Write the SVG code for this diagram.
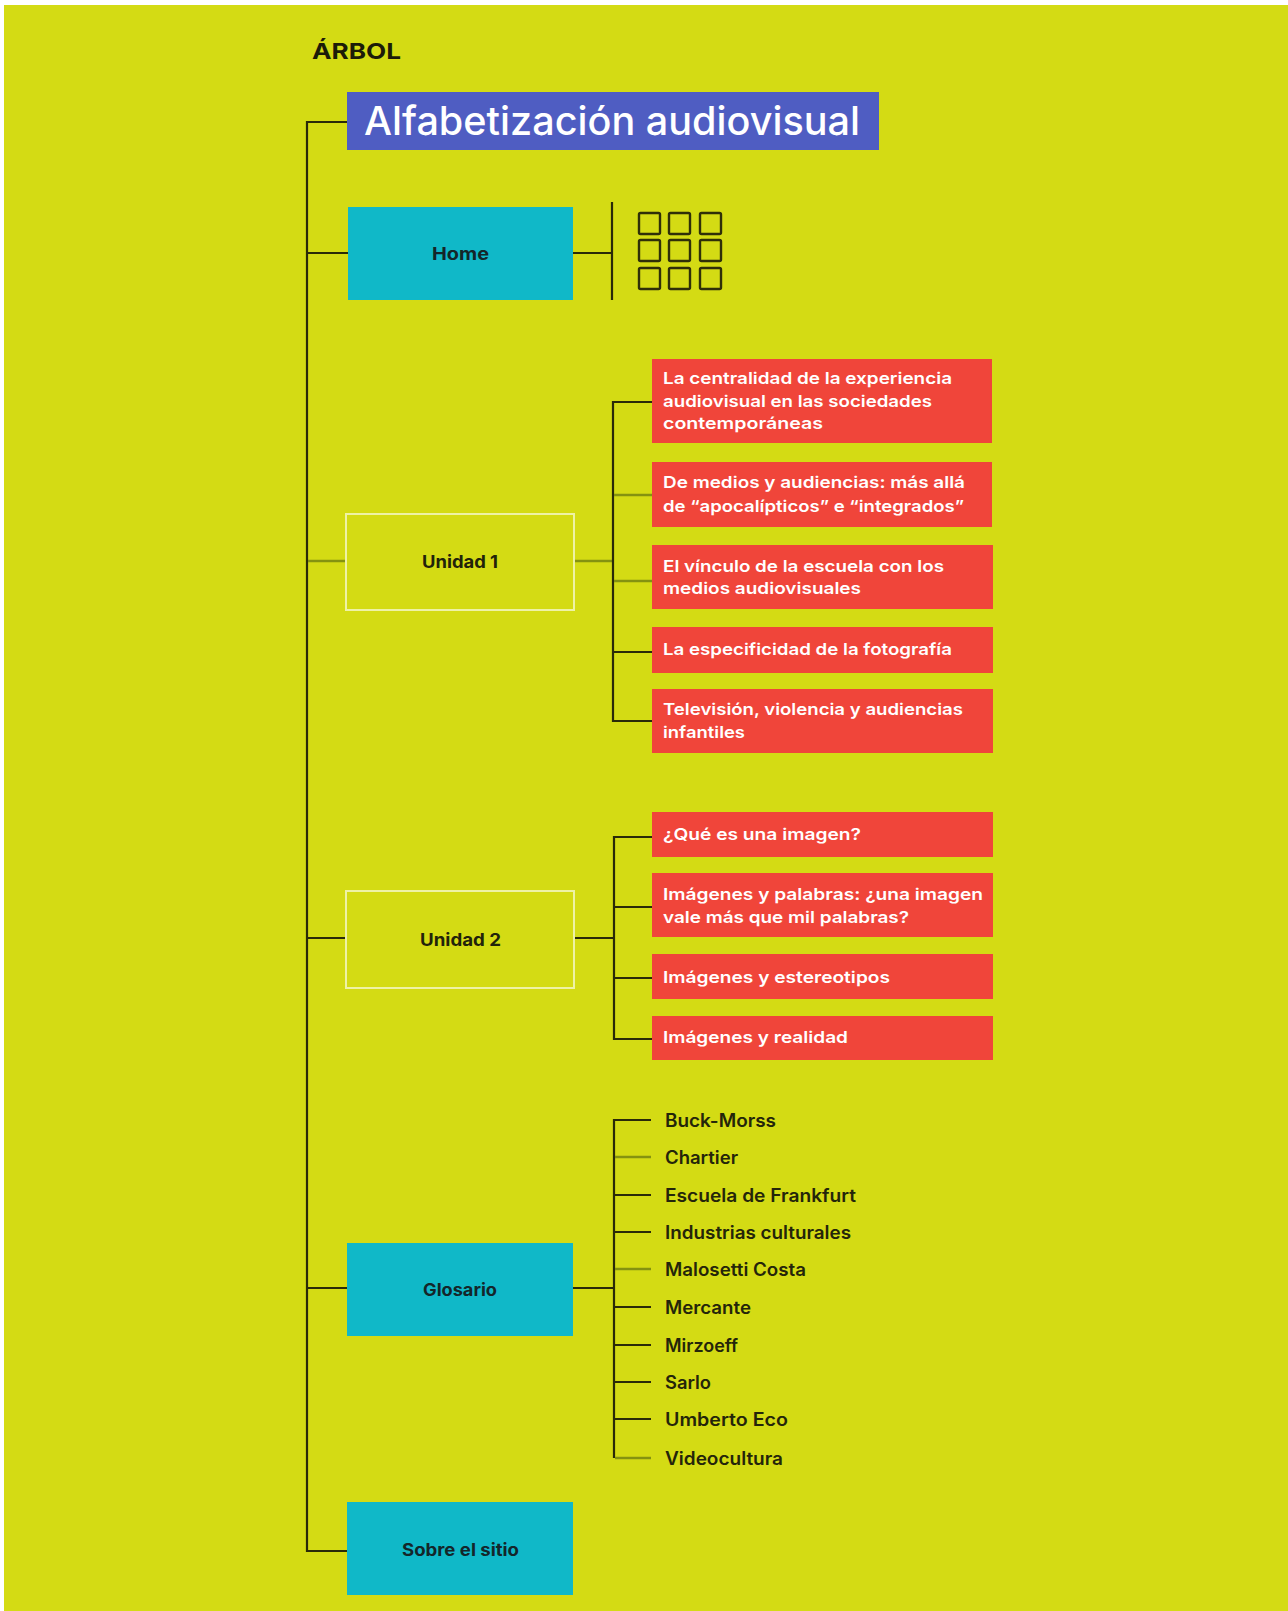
<svg xmlns="http://www.w3.org/2000/svg" width="1288" height="1611" viewBox="0 0 1288 1611">
<defs>
<style>
.bg{fill:#d4db14}
.dk{stroke:#2a2a08;stroke-width:2.2;fill:none}
.lt{stroke:#849210;stroke-width:2.4;fill:none}
.cy{fill:#10b8c8}
.rd{fill:#f0453a}
.un{fill:none;stroke:#eef2a6;stroke-width:2}
.sq{fill:none;stroke:#2f2f08;stroke-width:2.4}
.lbl{font-family:Inter,"Noto Sans","Liberation Sans",sans-serif;font-weight:700;font-size:17.5px;fill:#14262a;text-anchor:middle}
.ulbl{font-family:Inter,"Noto Sans","Liberation Sans",sans-serif;font-weight:700;font-size:17.5px;fill:#22230a;text-anchor:middle}
.rt{font-family:Inter,"Noto Sans","Liberation Sans",sans-serif;font-weight:600;font-size:16.5px;fill:#ffffff}
.gt{font-family:Inter,"Noto Sans","Liberation Sans",sans-serif;font-weight:600;font-size:18px;fill:#24250a}
</style>
</defs>
<rect x="0" y="0" width="1288" height="1611" fill="#ffffff"/>
<rect class="bg" x="4" y="5" width="1284" height="1606"/>
<text x="312" y="59" textLength="89" lengthAdjust="spacingAndGlyphs" style="font-family:Inter,'Noto Sans','Liberation Sans',sans-serif;font-weight:700;font-size:22px;fill:#1c1c08">ÁRBOL</text>

<g id="connectors">
<path class="dk" d="M347 122 H307 V1551 H347"/>
<path class="dk" d="M307 253 H348 M573 253 H612 M612 202 V300"/>
<path class="lt" d="M308 561 H346 M574 561 H612"/>
<path class="dk" d="M652 402 H613 V721 H652 M613 652 H652"/>
<path class="lt" d="M614 495 H652 M614 581 H652"/>
<path class="dk" d="M307 938 H346 M574 938 H614"/>
<path class="dk" d="M652 837 H614 V1039 H652 M614 907 H652 M614 978 H652"/>
<path class="dk" d="M307 1288 H347 M573 1288 H614"/>
<path class="dk" d="M651 1120 H614 V1458 M614 1195 H651 M614 1232 H651 M614 1307 H651 M614 1345 H651 M614 1382 H651 M614 1419 H651"/>
<path class="lt" d="M615 1157 H651 M615 1269 H651 M615 1458 H651"/>
</g>

<g id="title">
<rect x="347" y="92" width="532" height="58" fill="#4f5dc2"/>
<text x="364" y="135" textLength="496" lengthAdjust="spacingAndGlyphs" style="font-family:Inter,'Noto Sans','Liberation Sans',sans-serif;font-weight:500;font-size:39px;fill:#ffffff">Alfabetización audiovisual</text>
</g>

<g id="home">
<rect class="cy" x="348" y="207" width="225" height="93"/>
<text class="lbl" x="460.5" y="260" textLength="57" lengthAdjust="spacingAndGlyphs">Home</text>
</g>

<g id="home-grid">
<rect class="sq" x="639" y="213" width="21" height="21" rx="1.5"/>
<rect class="sq" x="669" y="213" width="21" height="21" rx="1.5"/>
<rect class="sq" x="700" y="213" width="21" height="21" rx="1.5"/>
<rect class="sq" x="639" y="240" width="21" height="21" rx="1.5"/>
<rect class="sq" x="669" y="240" width="21" height="21" rx="1.5"/>
<rect class="sq" x="700" y="240" width="21" height="21" rx="1.5"/>
<rect class="sq" x="639" y="268" width="21" height="21" rx="1.5"/>
<rect class="sq" x="669" y="268" width="21" height="21" rx="1.5"/>
<rect class="sq" x="700" y="268" width="21" height="21" rx="1.5"/>
</g>

<g id="unidad1">
<rect class="un" x="346" y="514" width="228" height="96"/>
<text class="ulbl" x="460" y="568" textLength="76" lengthAdjust="spacingAndGlyphs">Unidad 1</text>
</g>
<g id="u1-1">
<rect class="rd" x="652" y="359" width="340" height="84"/>
<text class="rt" x="663" y="384" textLength="289" lengthAdjust="spacingAndGlyphs">La centralidad de la experiencia</text>
<text class="rt" x="663" y="407" textLength="269" lengthAdjust="spacingAndGlyphs">audiovisual en las sociedades</text>
<text class="rt" x="663" y="429" textLength="160" lengthAdjust="spacingAndGlyphs">contemporáneas</text>
</g>
<g id="u1-2">
<rect class="rd" x="652" y="462" width="340" height="65"/>
<text class="rt" x="663" y="488" textLength="302" lengthAdjust="spacingAndGlyphs">De medios y audiencias: más allá</text>
<text class="rt" x="663" y="512" textLength="301" lengthAdjust="spacingAndGlyphs">de “apocalípticos” e “integrados”</text>
</g>
<g id="u1-3">
<rect class="rd" x="652" y="545" width="341" height="64"/>
<text class="rt" x="663" y="572" textLength="281" lengthAdjust="spacingAndGlyphs">El vínculo de la escuela con los</text>
<text class="rt" x="663" y="594" textLength="198" lengthAdjust="spacingAndGlyphs">medios audiovisuales</text>
</g>
<g id="u1-4">
<rect class="rd" x="652" y="627" width="341" height="46"/>
<text class="rt" x="663" y="655" textLength="289" lengthAdjust="spacingAndGlyphs">La especificidad de la fotografía</text>
</g>
<g id="u1-5">
<rect class="rd" x="652" y="689" width="341" height="64"/>
<text class="rt" x="663" y="715" textLength="300" lengthAdjust="spacingAndGlyphs">Televisión, violencia y audiencias</text>
<text class="rt" x="663" y="738" textLength="82" lengthAdjust="spacingAndGlyphs">infantiles</text>
</g>

<g id="unidad2">
<rect class="un" x="346" y="891" width="228" height="97"/>
<text class="ulbl" x="460.5" y="946" textLength="81" lengthAdjust="spacingAndGlyphs">Unidad 2</text>
</g>
<g id="u2-1">
<rect class="rd" x="652" y="812" width="341" height="45"/>
<text class="rt" x="663" y="840" textLength="198" lengthAdjust="spacingAndGlyphs">¿Qué es una imagen?</text>
</g>
<g id="u2-2">
<rect class="rd" x="652" y="873" width="341" height="64"/>
<text class="rt" x="663" y="900" textLength="320" lengthAdjust="spacingAndGlyphs">Imágenes y palabras: ¿una imagen</text>
<text class="rt" x="663" y="923" textLength="246" lengthAdjust="spacingAndGlyphs">vale más que mil palabras?</text>
</g>
<g id="u2-3">
<rect class="rd" x="652" y="954" width="341" height="45"/>
<text class="rt" x="663" y="983" textLength="227" lengthAdjust="spacingAndGlyphs">Imágenes y estereotipos</text>
</g>
<g id="u2-4">
<rect class="rd" x="652" y="1016" width="341" height="44"/>
<text class="rt" x="663" y="1043" textLength="185" lengthAdjust="spacingAndGlyphs">Imágenes y realidad</text>
</g>

<g id="glosario">
<rect class="cy" x="347" y="1243" width="226" height="93"/>
<text class="lbl" x="460" y="1296" textLength="74" lengthAdjust="spacingAndGlyphs">Glosario</text>
</g>
<g id="glosario-terms">
<text class="gt" x="665" y="1126.5" textLength="111" lengthAdjust="spacingAndGlyphs">Buck-Morss</text>
<text class="gt" x="665" y="1163.5" textLength="73" lengthAdjust="spacingAndGlyphs">Chartier</text>
<text class="gt" x="665" y="1201.5" textLength="191" lengthAdjust="spacingAndGlyphs">Escuela de Frankfurt</text>
<text class="gt" x="665" y="1238.5" textLength="186" lengthAdjust="spacingAndGlyphs">Industrias culturales</text>
<text class="gt" x="665" y="1275.5" textLength="141" lengthAdjust="spacingAndGlyphs">Malosetti Costa</text>
<text class="gt" x="665" y="1313.5" textLength="86" lengthAdjust="spacingAndGlyphs">Mercante</text>
<text class="gt" x="665" y="1351.5" textLength="73" lengthAdjust="spacingAndGlyphs">Mirzoeff</text>
<text class="gt" x="665" y="1388.5" textLength="46" lengthAdjust="spacingAndGlyphs">Sarlo</text>
<text class="gt" x="665" y="1425.5" textLength="123" lengthAdjust="spacingAndGlyphs">Umberto Eco</text>
<text class="gt" x="665" y="1464.5" textLength="118" lengthAdjust="spacingAndGlyphs">Videocultura</text>
</g>

<g id="sobre">
<rect class="cy" x="347" y="1502" width="226" height="93"/>
<text class="lbl" x="460.5" y="1556" textLength="117" lengthAdjust="spacingAndGlyphs">Sobre el sitio</text>
</g>
</svg>
